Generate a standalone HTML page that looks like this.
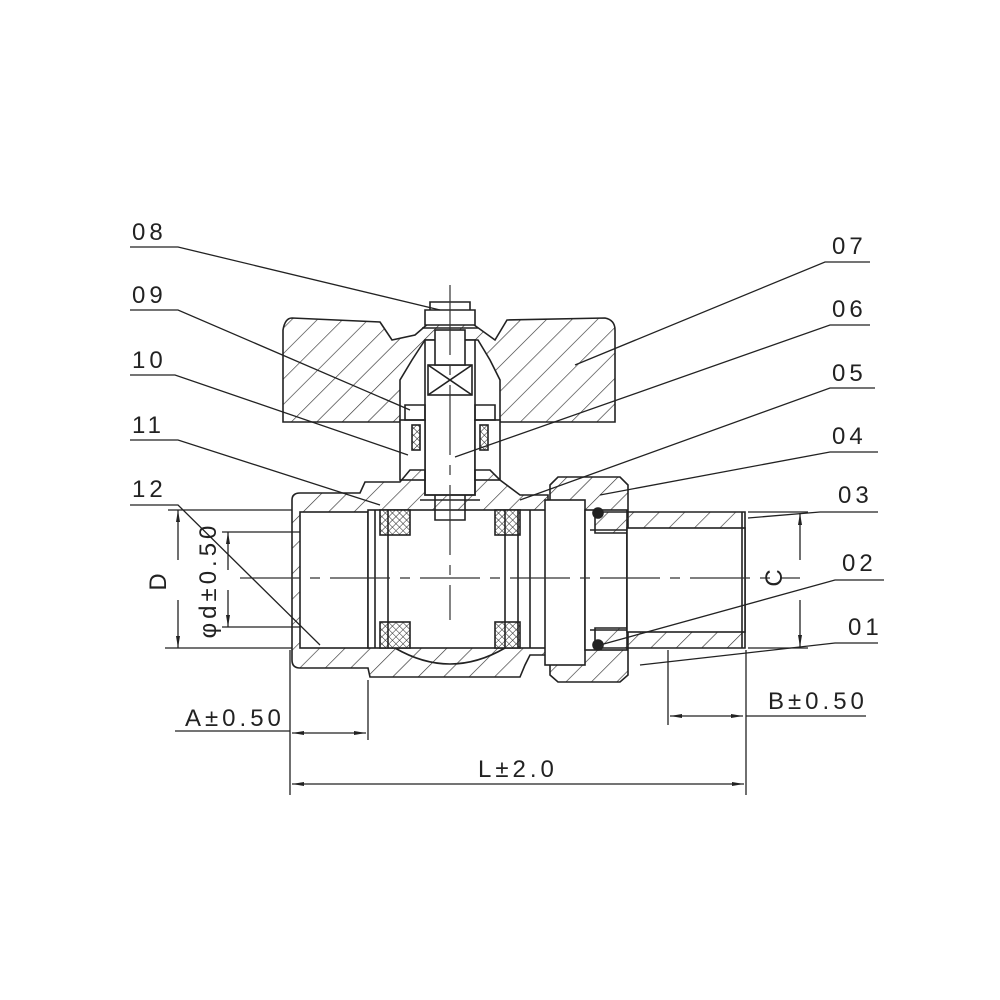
<!DOCTYPE html>
<html><head><style>
html,body{margin:0;padding:0;background:#fff}
svg{display:block}
text{font-family:"Liberation Sans",sans-serif;fill:#222;}
</style></head><body>
<svg width="1000" height="1000" viewBox="0 0 1000 1000" xmlns="http://www.w3.org/2000/svg">
<defs>
<pattern id="h" width="18" height="18" patternUnits="userSpaceOnUse" patternTransform="rotate(45)">
<line x1="0" y1="0" x2="0" y2="18" stroke="#333" stroke-width="1.3"/>
</pattern>
<pattern id="x" width="5" height="5" patternUnits="userSpaceOnUse" patternTransform="rotate(45)">
<rect width="5" height="5" fill="#fff"/>
<path d="M0 0V5M0 0H5" stroke="#222" stroke-width="1"/>
</pattern>
<marker id="a" markerWidth="12" markerHeight="6" refX="12" refY="3" orient="auto" markerUnits="userSpaceOnUse">
<path d="M0 1 L12 3 L0 5z" fill="#222"/>
</marker>
</defs>
<g stroke="#222" stroke-width="1.6" fill="none">
<!-- handle -->
<path d="M292 318 L380 322 L392 340 L415 335 L430 322 L470 322 L495 340 L507 320 L605 318 Q615 320 615 330 L615 422 L500 422 L500 380 L490 360 L478 340 L425 340 L412 360 L400 380 L400 422 L283 422 L283 330 Q285 318 292 318z" fill="url(#h)"/>
<!-- stem area -->
<rect x="425" y="340" width="50" height="155" fill="#fff"/>
<rect x="428" y="365" width="44" height="30" fill="#fff"/>
<path d="M428 365 L472 395 M472 365 L428 395"/>
<rect x="435" y="330" width="30" height="35" fill="#fff"/>
<path d="M425 310 h50 v15 h-50z M430 310 v-8 h40 v8" fill="#fff"/>
<line x1="422" y1="328" x2="478" y2="328"/>
<!-- bonnet / packing -->
<rect x="400" y="420" width="25" height="60" fill="#fff"/>
<rect x="475" y="420" width="25" height="60" fill="#fff"/>
<rect x="412" y="425" width="8" height="25" fill="url(#x)"/>
<rect x="480" y="425" width="8" height="25" fill="url(#x)"/>
<path d="M405 405 h20 v15 h-20z M475 405 h20 v15 h-20z"/>
<!-- body -->
<path d="M292 500 Q292 493 300 493 L360 493 L365 482 L400 482 L410 470 L425 470 L425 495 L475 495 L475 470 L490 470 L500 480 L520 495 L530 495 L548 495 L548 655 L530 655 L525 665 L520 677 L370 677 L368 668 L300 668 Q292 668 292 660z" fill="url(#h)"/>
<!-- bore -->
<rect x="300" y="512" width="68" height="136" fill="#fff"/>
<rect x="368" y="510" width="180" height="138" fill="#fff"/>
<path d="M395 648 Q450 680 505 648" />
<rect x="380" y="510" width="30" height="25" fill="url(#x)"/>
<rect x="495" y="510" width="25" height="25" fill="url(#x)"/>
<rect x="380" y="622" width="30" height="26" fill="url(#x)"/>
<rect x="495" y="622" width="25" height="26" fill="url(#x)"/>
<path d="M375 510 V648 M388 510 V648 M505 510 V648 M518 510 V648 M530 510 V648"/>
<path d="M435 495 V520 H465 V495 M420 500 H480"/>
<!-- right nut -->
<path d="M558 477 H620 L628 485 V675 L620 682 H558 L550 675 V485z" fill="url(#h)"/>
<rect x="545" y="500" width="40" height="165" fill="#fff"/>
<rect x="585" y="510" width="42" height="140" fill="#fff"/>
<circle cx="598" cy="513" r="5" fill="#222"/>
<circle cx="598" cy="645" r="5" fill="#222"/>
<!-- right pipe -->
<path d="M595 512 H745 V648 H595 V628 H627 V533 H595z" fill="url(#h)"/>
<rect x="627" y="528" width="118" height="104" fill="#fff"/>
<path d="M590 530 H627 M590 630 H627 M742 512 V648"/>
</g>
<!-- centerlines -->
<g stroke="#333" stroke-width="1.2" fill="none">
<line x1="240" y1="578" x2="800" y2="578" stroke-dasharray="60 10 10 10"/>
<line x1="450" y1="285" x2="450" y2="620" stroke-dasharray="70 10 10 10"/>
</g>
<!-- leaders -->
<g stroke="#222" stroke-width="1.3" fill="none">
<path d="M130 247 H178 L440 310"/>
<path d="M130 310 H178 L410 410"/>
<path d="M130 375 H175 L408 455"/>
<path d="M130 440 H178 L380 505"/>
<path d="M130 505 H178 L320 645"/>
<path d="M870 262 H825 L575 365"/>
<path d="M870 325 H830 L455 457"/>
<path d="M875 388 H830 L520 500"/>
<path d="M878 452 H830 L600 495"/>
<path d="M878 512 H820 L748 518"/>
<path d="M884 580 H835 L600 645"/>
<path d="M878 643 H835 L640 665"/>
<!-- dims -->
<path d="M168 510 H292 M165 648 H292"/>
<path d="M222 532 H300 M222 627 H300"/>
<line x1="178" y1="560" x2="178" y2="510" marker-end="url(#a)"/>
<line x1="178" y1="600" x2="178" y2="648" marker-end="url(#a)"/>
<line x1="228" y1="570" x2="228" y2="532" marker-end="url(#a)"/>
<line x1="228" y1="590" x2="228" y2="627" marker-end="url(#a)"/>
<path d="M748 512 H808 M748 648 H808"/>
<line x1="800" y1="560" x2="800" y2="513" marker-end="url(#a)"/>
<line x1="800" y1="600" x2="800" y2="647" marker-end="url(#a)"/>
<path d="M290 650 V795 M368 680 V740 M668 650 V725 M746 650 V795"/>
<path d="M175 731 H290"/>
<line x1="330" y1="733" x2="292" y2="733" marker-end="url(#a)"/>
<line x1="330" y1="733" x2="366" y2="733" marker-end="url(#a)"/>
<path d="M746 716 H866"/>
<line x1="705" y1="716" x2="670" y2="716" marker-end="url(#a)"/>
<line x1="705" y1="716" x2="743" y2="716" marker-end="url(#a)"/>
<line x1="520" y1="784" x2="292" y2="784" marker-end="url(#a)"/>
<line x1="520" y1="784" x2="744" y2="784" marker-end="url(#a)"/>
</g>
<g font-size="24" letter-spacing="4">
<text x="132" y="240">08</text>
<text x="132" y="303">09</text>
<text x="132" y="368">10</text>
<text x="132" y="433">11</text>
<text x="132" y="497">12</text>
<text x="832" y="254">07</text>
<text x="832" y="317">06</text>
<text x="832" y="381">05</text>
<text x="832" y="444">04</text>
<text x="838" y="503">03</text>
<text x="842" y="571">02</text>
<text x="848" y="635">01</text>
<text x="185" y="726">A±0.50</text>
<text x="768" y="709">B±0.50</text>
<text x="478" y="777">L±2.0</text>
<text transform="translate(166 580) rotate(-90)" text-anchor="middle">D</text>
<text transform="translate(216 580) rotate(-90)" text-anchor="middle">φd±0.50</text>
<text transform="translate(782 578) rotate(-90)" text-anchor="middle" letter-spacing="0">C</text>
</g>
</svg>
</body></html>
